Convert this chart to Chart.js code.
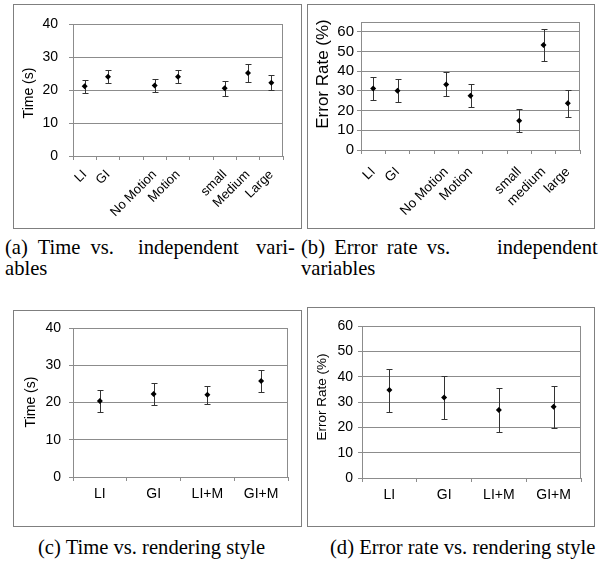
<!DOCTYPE html>
<html>
<head>
<meta charset="utf-8">
<script src="https://cdn.jsdelivr.net/npm/chart.js@4.4.1/dist/chart.umd.min.js"></script>
<style>
body { margin:0; background:#fff; width:603px; height:566px; position:relative; overflow:hidden; }
.panel { position:absolute; box-sizing:border-box; border:1px solid #7f7f7f; }
.panel canvas { position:absolute; left:0; top:0; }
.cap { position:absolute; font-family:'Liberation Serif','Times New Roman',serif; font-size:20.6px; line-height:24px; color:#000; white-space:nowrap; }
</style>
</head>
<body>
<div class="panel" style="left:13px;top:4px;width:289px;height:225px"><canvas id="ca" width="287" height="223"></canvas></div>
<div class="panel" style="left:307px;top:4px;width:288px;height:225px"><canvas id="cb" width="286" height="223"></canvas></div>
<div class="panel" style="left:13px;top:310px;width:289px;height:217px"><canvas id="cc" width="287" height="215"></canvas></div>
<div class="panel" style="left:307px;top:307px;width:288px;height:220px"><canvas id="cd" width="286" height="218"></canvas></div>

<div class="cap" style="left:5px;top:235px;word-spacing:5px">(a) Time vs.</div>
<div class="cap" style="left:138px;top:235px">independent</div>
<div class="cap" style="left:256px;top:235px">vari-</div>
<div class="cap" style="left:5px;top:256px">ables</div>
<div class="cap" style="left:301px;top:235px;word-spacing:4px">(b) Error rate vs.</div>
<div class="cap" style="left:497px;top:235px">independent</div>
<div class="cap" style="left:301px;top:256px">variables</div>
<div class="cap" style="left:38px;top:535px">(c) Time vs. rendering style</div>
<div class="cap" style="left:330px;top:535px">(d) Error rate vs. rendering style</div>

<script>
// data
const catsA = ['LI', 'GI', '', 'No Motion', 'Motion', '', 'small', 'Medium', 'Large'];
const timeA = [21.2, 24.1, null, 21.4, 24.1, null, 20.6, 25.2, 22.3];
const timeErrA = [2.0, 2.0, null, 2.0, 2.0, null, 2.3, 2.8, 2.2];

const catsB = ['LI', 'GI', '', 'No Motion', 'Motion', '', 'small', 'medium', 'large'];
const rateB = [31.2, 30.1, null, 33.3, 27.6, null, 14.9, 53.3, 23.7];
const rateErrB = [6.0, 5.8, null, 6.1, 5.8, null, 5.7, 7.9, 6.7];

const catsStyle = ['LI', 'GI', 'LI+M', 'GI+M'];
const timeC = [20.4, 22.3, 22.1, 25.8];
const timeErrC = [2.85, 3.0, 2.45, 2.95];
const rateD = [34.7, 31.8, 26.8, 28.1];
const rateErrD = [8.5, 8.6, 8.55, 8.4];

// y tick labels
const timeTicks = [0, 10, 20, 30, 40];
const rateTicks = [0, 10, 20, 30, 40, 50, 60];

const timeTitle = 'Time (s)';
const rateTitle = 'Error Rate (%)';

Chart.defaults.font.family = "'Liberation Sans', Arial, sans-serif";
Chart.defaults.color = '#000';

const gridCol = '#8c8c8c';

// frame + error bars + rotated y title
const extras = {
    id: 'extras',
    beforeDatasetsDraw(chart, args, o) {
        const ctx = chart.ctx;
        const a = chart.chartArea;
        const xs = chart.scales.x, ys = chart.scales.y;
        ctx.save();
        ctx.strokeStyle = gridCol;
        ctx.lineWidth = 1;
        ctx.strokeRect(Math.round(a.left) + 0.5, Math.round(a.top) + 0.5, Math.round(a.right - a.left) - 1, Math.round(a.bottom - a.top));

        ctx.strokeStyle = '#333';
        const vals = chart.data.datasets[0].data;
        vals.forEach((v, i) => {
            if (v == null) return;
            const x = Math.round(xs.getPixelForValue(i)) + 0.5;
            const t = Math.round(ys.getPixelForValue(v + o.errs[i])) + 0.5;
            const b = Math.round(ys.getPixelForValue(v - o.errs[i])) + 0.5;
            ctx.beginPath();
            ctx.moveTo(x, t); ctx.lineTo(x, b);
            ctx.moveTo(x - 3, t); ctx.lineTo(x + 3, t);
            ctx.moveTo(x - 3, b); ctx.lineTo(x + 3, b);
            ctx.stroke();
        });

        ctx.translate(o.titleX, o.titleY);
        ctx.rotate(-Math.PI / 2);
        ctx.fillStyle = '#000';
        ctx.font = o.titleSize + "px 'Liberation Sans', Arial, sans-serif";
        ctx.textAlign = 'center';
        ctx.textBaseline = 'middle';
        ctx.fillText(o.title, 0, 0);
        ctx.restore();
    }
};

function makeChart(id, labels, values, errs, yTicks, c) {
    return new Chart(document.getElementById(id), {
        type: 'line',
        data: {
            labels: labels,
            datasets: [{
                data: values,
                showLine: false,
                pointStyle: 'rectRot',
                pointRadius: 3,
                pointBackgroundColor: '#000',
                pointBorderColor: '#000',
                pointBorderWidth: 0
            }]
        },
        options: {
            responsive: false,
            animation: false,
            layout: { padding: { left: 0, top: c.padTop, right: c.padRight, bottom: 0 } },
            plugins: {
                legend: { display: false },
                tooltip: { enabled: false },
                extras: { errs: errs, title: c.title, titleX: c.titleX, titleY: c.titleY, titleSize: c.titleSize }
            },
            scales: {
                x: {
                    offset: true,
                    grid: { offset: true, drawOnChartArea: false, color: gridCol, tickLength: 4 },
                    border: { color: gridCol },
                    ticks: { autoSkip: false, minRotation: c.rot, maxRotation: c.rot, padding: c.xPad, font: { size: c.xSize } },
                    afterFit: s => { s.height = c.xh; }
                },
                y: {
                    min: 0, max: c.max,
                    grid: { color: gridCol, tickLength: 4 },
                    border: { color: gridCol },
                    ticks: { padding: c.yPad, font: { size: c.ySize } },
                    afterBuildTicks: s => { s.ticks = yTicks.map(v => ({ value: v })); },
                    afterFit: s => { s.width = c.yw; }
                }
            }
        },
        plugins: [extras]
    });
}

makeChart('ca', catsA, timeA, timeErrA, timeTicks, {
    padTop: 18, padRight: 18, yw: 59, xh: 72, max: 40, rot: 45,
    xPad: 7, yPad: 11, xSize: 13, ySize: 14,
    title: timeTitle, titleX: 15, titleY: 88, titleSize: 14
});
makeChart('cb', catsB, rateB, rateErrB, rateTicks, {
    padTop: 17, padRight: 14, yw: 53, xh: 78, max: 65, rot: 45,
    xPad: 10, yPad: 3, xSize: 13.5, ySize: 15,
    title: rateTitle, titleX: 15, titleY: 69, titleSize: 17
});
makeChart('cc', catsStyle, timeC, timeErrC, timeTicks, {
    padTop: 17, padRight: 13, yw: 59, xh: 49, max: 40, rot: 0,
    xPad: 5, yPad: 8, xSize: 14, ySize: 14,
    title: timeTitle, titleX: 17, titleY: 91, titleSize: 14
});
makeChart('cd', catsStyle, rateD, rateErrD, rateTicks, {
    padTop: 18, padRight: 13, yw: 54, xh: 48, max: 60, rot: 0,
    xPad: 5, yPad: 5, xSize: 14, ySize: 14,
    title: rateTitle, titleX: 14, titleY: 89, titleSize: 13.5
});
</script>
</body>
</html>
